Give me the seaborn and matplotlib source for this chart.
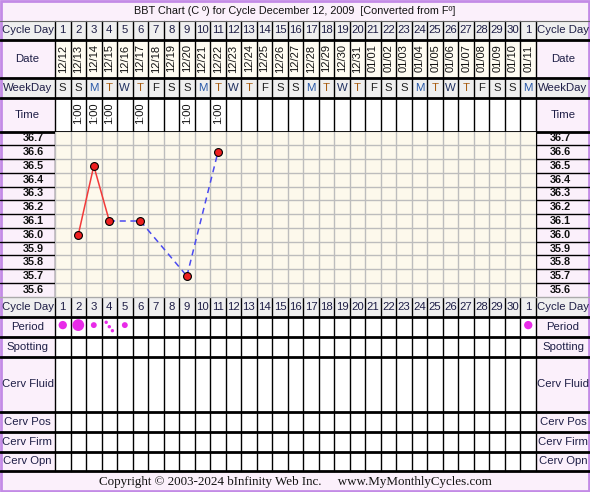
import numpy as np
import pandas as pd
import seaborn as sns
import matplotlib.pyplot as plt
from matplotlib.patches import Rectangle

# ---- data ----
cycle_days = list(range(1, 31)) + [1]
dates = ["12/12", "12/13", "12/14", "12/15", "12/16", "12/17", "12/18", "12/19",
         "12/20", "12/21", "12/22", "12/23", "12/24", "12/25", "12/26", "12/27",
         "12/28", "12/29", "12/30", "12/31", "01/01", "01/02", "01/03", "01/04",
         "01/05", "01/06", "01/07", "01/08", "01/09", "01/10", "01/11"]
weekdays = ["S", "S", "M", "T", "W", "T", "F", "S", "S", "M", "T", "W", "T", "F",
            "S", "S", "M", "T", "W", "T", "F", "S", "S", "M", "T", "W", "T", "F",
            "S", "S", "M"]

temp_days = [2, 3, 4, 6, 9, 11]
temp_vals = [36.0, 36.5, 36.1, 36.1, 35.7, 36.6]
time_labels = ["1:00", "1:00", "1:00", "1:00", "1:00", "1:00"]

temp_ticks = [36.7, 36.6, 36.5, 36.4, 36.3, 36.2, 36.1, 36.0, 35.9, 35.8, 35.7, 35.6]

period_days = [1, 2, 3, 5, 31]
period_flow = ["medium", "heavy", "light", "light", "medium"]
spotting_period_day = 4

title = "BBT Chart (C \u00ba) for Cycle December 12, 2009  [Converted from F\u00ba]"
footer = "Copyright \u00a9 2003-2024 bInfinity Web Inc.     www.MyMonthlyCycles.com"

# ---- layout (pixels) ----
W, H = 590, 492
X0, X1 = 55, 536
N = len(cycle_days)
CW = (X1 - X0) / N

rows = {
    "title": (0, 20.7), "cycle": (20.7, 39.5), "date": (39.5, 77.5),
    "week": (77.5, 97.7), "time": (97.7, 131.5), "chart": (131.5, 296.7),
    "cycle2": (296.7, 316.7), "period": (316.7, 336.7), "spot": (336.7, 356.7),
    "fluid": (356.7, 411.7), "pos": (411.7, 431.7), "firm": (431.7, 451.7),
    "opn": (451.7, 471), "copy": (471, 492),
}

LAV = "#FBF0FB"
GRAY = "#EFEFEF"
CREAM = "#FDF9EC"
TXT = "#1E1E46"
wd_colors = {"S": "#202020", "M": "#2858A8", "T": "#A85C10", "W": "#203060", "F": "#202020"}

sns.set_theme(style="white")
plt.rcParams["font.family"] = ["Liberation Sans", "DejaVu Sans"]

fig = plt.figure(figsize=(W / 100, H / 100), dpi=100)
fig.patch.set_facecolor(LAV)

bg = fig.add_axes([0, 0, 1, 1])
bg.set_xlim(0, W)
bg.set_ylim(H, 0)
bg.axis("off")


def cx(i):
    return X0 + (i + 0.5) * CW


def fill(y0, y1, day_color, label_color=LAV):
    bg.add_patch(Rectangle((0, y0), X0, y1 - y0, color=label_color, lw=0))
    bg.add_patch(Rectangle((X0, y0), X1 - X0, y1 - y0, color=day_color, lw=0))
    bg.add_patch(Rectangle((X1, y0), W - X1, y1 - y0, color=label_color, lw=0))


fill(*rows["cycle"], GRAY, GRAY)
fill(*rows["date"], "#FFFCF2")
fill(*rows["week"], GRAY, GRAY)
fill(*rows["time"], "white")
fill(*rows["chart"], CREAM)
fill(*rows["cycle2"], GRAY, GRAY)
for r in ["period", "spot", "fluid", "pos", "firm", "opn"]:
    fill(*rows[r], "white")

# row labels
side_labels = {"cycle": "Cycle Day", "date": "Date", "week": "WeekDay", "time": "Time",
               "cycle2": "Cycle Day", "period": "Period", "spot": "Spotting",
               "fluid": "Cerv Fluid", "pos": "Cerv Pos", "firm": "Cerv Firm",
               "opn": "Cerv Opn"}
for key, lab in side_labels.items():
    y0, y1 = rows[key]
    ym = (y0 + y1) / 2
    bg.text(X0 / 2, ym, lab, ha="center", va="center", fontsize=8.2, color=TXT)
    bg.text((X1 + W) / 2, ym, lab, ha="center", va="center", fontsize=8.2, color=TXT)

# header cells
for i in range(N):
    for key in ["cycle", "cycle2"]:
        y0, y1 = rows[key]
        bg.text(cx(i), (y0 + y1) / 2, str(cycle_days[i]), ha="center", va="center",
                fontsize=8.2, color=TXT)
    y0, y1 = rows["date"]
    bg.text(cx(i), (y0 + y1) / 2, dates[i], ha="center", va="center", rotation=90,
            fontsize=8, color="#111111")
    y0, y1 = rows["week"]
    bg.text(cx(i), (y0 + y1) / 2, weekdays[i], ha="center", va="center", fontsize=8.2,
            color=wd_colors[weekdays[i]])

y0, y1 = rows["time"]
for d, t in zip(temp_days, time_labels):
    bg.text(cx(d - 1), (y0 + y1) / 2 - 1.5, t, ha="center", va="center", rotation=90,
            fontsize=8, color="#111111")

# vertical column lines
for i in range(N + 1):
    x = X0 + i * CW
    bg.plot([x, x], [rows["cycle"][0], rows["time"][1]], color="black", lw=1)
    bg.plot([x, x], [rows["cycle2"][0], rows["opn"][1]], color="black", lw=1)
    if i in (0, N):
        bg.plot([x, x], [rows["chart"][0], rows["chart"][1]], color="black", lw=1)

# horizontal row lines
bg.plot([0, W], [rows["cycle"][0]] * 2, color="#666666", lw=0.8)
for key in ["cycle", "date", "week", "time", "cycle2", "period", "spot", "fluid",
            "pos", "firm", "opn"]:
    y = rows[key][1]
    bg.plot([0, W], [y, y], color="black", lw=2)
bg.plot([0, W], [rows["chart"][1]] * 2, color="#AAAAAA", lw=1)

# temperature label rows
cy0, cy1 = rows["chart"]
rh = (cy1 - cy0) / len(temp_ticks)
for k in range(1, len(temp_ticks)):
    y = cy0 + k * rh
    bg.plot([0, X0], [y, y], color="black", lw=1)
    bg.plot([X1, W], [y, y], color="black", lw=1)

# title and footer
bg.text(W / 2, 10.5, title, ha="center", va="center", fontsize=7.8, color="#111111")
bg.text(W / 2, 482, footer, ha="center", va="center", fontsize=9.4, color="#111111",
        family=["Liberation Serif", "DejaVu Serif"])

# outer frame
bg.add_patch(Rectangle((1, 1), W - 2, H - 2, fill=False, ec="#C38BE6", lw=2))

# ---- temperature chart ----
ax = fig.add_axes([X0 / W, 1 - cy1 / H, (X1 - X0) / W, (cy1 - cy0) / H])
ax.set_facecolor(CREAM)
ax.set_xlim(0.5, N + 0.5)
ax.set_ylim(min(temp_ticks) - 0.05, max(temp_ticks) + 0.05)
ax.set_xticks(np.arange(0.5, N + 1, 1))
ax.set_yticks(np.arange(min(temp_ticks) - 0.05, max(temp_ticks) + 0.1, 0.1))
ax.grid(True, color="#BDBDBD", lw=1)
ax.tick_params(length=0, labelbottom=False, labelleft=False)
for s in ax.spines.values():
    s.set_visible(False)

segs = []
for j in range(len(temp_days) - 1):
    kind = "solid" if temp_days[j + 1] - temp_days[j] == 1 else "gap"
    segs.append({"seg": j, "day": temp_days[j], "temp": temp_vals[j], "kind": kind})
    segs.append({"seg": j, "day": temp_days[j + 1], "temp": temp_vals[j + 1], "kind": kind})
seg_df = pd.DataFrame(segs)

sns.lineplot(data=seg_df, x="day", y="temp", units="seg", estimator=None, hue="kind",
             style="kind", palette={"solid": "#F23A3A", "gap": "#4A4AF0"},
             dashes={"solid": "", "gap": (4, 3)}, lw=1.1, legend=False, ax=ax)
temp_df = pd.DataFrame({"day": temp_days, "temp": temp_vals})
sns.scatterplot(data=temp_df, x="day", y="temp", s=32, color="#EE2020",
                edgecolor="black", linewidth=0.8, zorder=5, ax=ax)
ax.set_xlabel("")
ax.set_ylabel("")

for t in temp_ticks:
    ax.text(-0.045, t, f"{t:.1f}", transform=ax.get_yaxis_transform(), ha="center",
            va="center", fontsize=7.8, fontweight="bold", color="#111111")
    ax.text(1.05, t, f"{t:.1f}", transform=ax.get_yaxis_transform(), ha="center",
            va="center", fontsize=7.8, fontweight="bold", color="#111111")

# ---- period row ----
py0, py1 = rows["period"]
pax = fig.add_axes([X0 / W, 1 - py1 / H, (X1 - X0) / W, (py1 - py0) / H])
pax.set_xlim(0.5, N + 0.5)
pax.set_ylim(0, 1)
pax.axis("off")
pdf = pd.DataFrame({"day": period_days, "flow": period_flow})
pdf["y"] = 0.58
sns.scatterplot(data=pdf, x="day", y="y", size="flow",
                sizes={"heavy": 72, "medium": 36, "light": 18}, color="#E82BE8",
                edgecolor="none", legend=False, ax=pax)
sp = pd.DataFrame({"day": [spotting_period_day - 0.2, spotting_period_day,
                           spotting_period_day + 0.2],
                   "y": [0.72, 0.5, 0.3]})
sns.scatterplot(data=sp, x="day", y="y", s=6, color="#E82BE8", edgecolor="none",
                legend=False, ax=pax)

fig.savefig("out.png", dpi=100, facecolor=fig.get_facecolor())
